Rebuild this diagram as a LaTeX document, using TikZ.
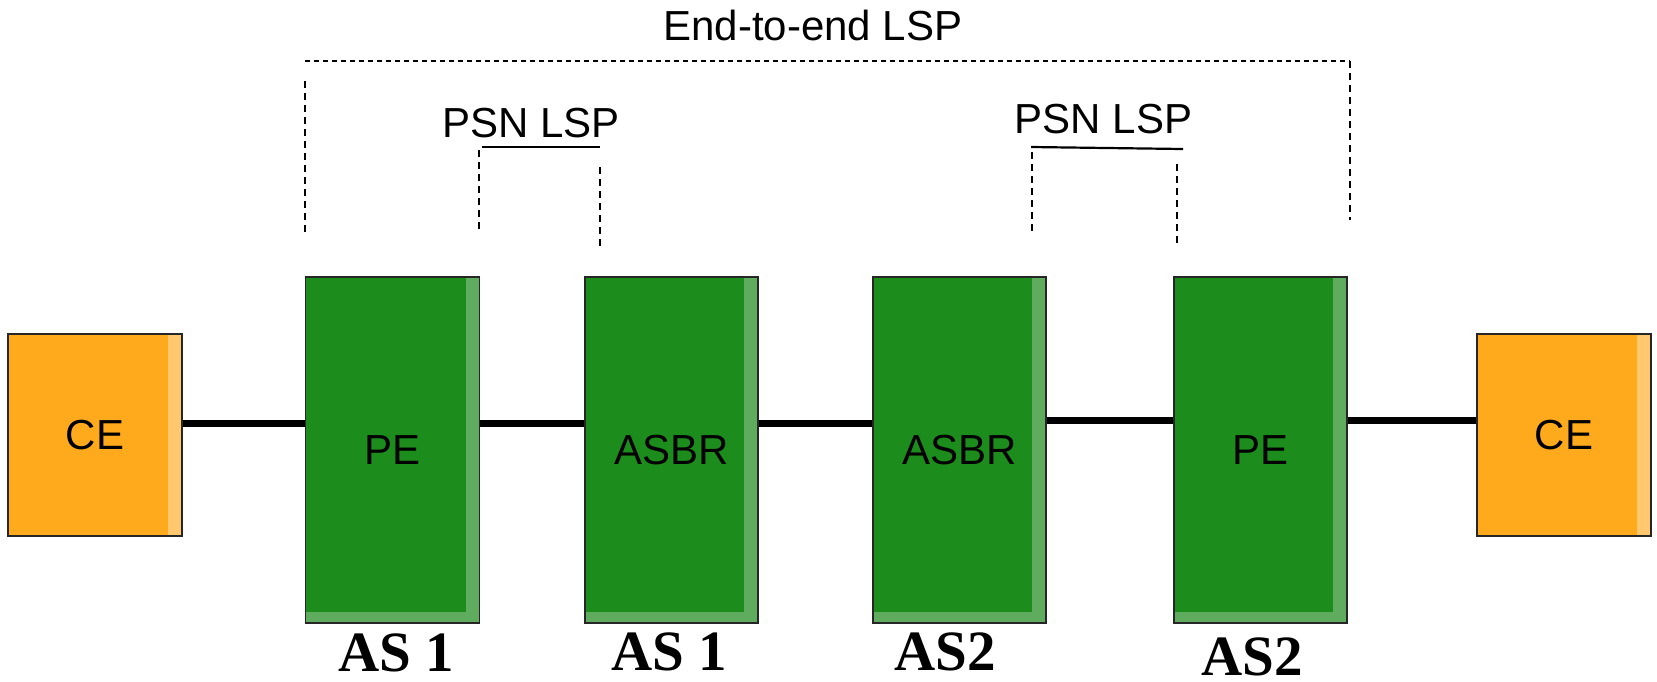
\documentclass[tikz,border=0pt]{standalone}
\usepackage{fontspec}
\setmainfont{Liberation Sans}
\newfontfamily\asfont{Liberation Serif}
\begin{document}
\begin{tikzpicture}[x=1pt,y=-1pt,
  boxlabel/.style={font=\fontsize{42}{48}\selectfont},
  devbox/.style={boxlabel, draw=black!85, line width=1.3pt, inner sep=0pt, anchor=center},
  edgebox/.style={devbox, fill=ceorange, minimum width=174pt, minimum height=202pt,
    path picture={\fill[celight] ([xshift=-14pt]path picture bounding box.north east) rectangle (path picture bounding box.south east);}},
  corebox/.style={devbox, fill=pegreen, minimum height=346pt,
    path picture={
      \fill[pelight] ([xshift=-14pt]path picture bounding box.north east) rectangle (path picture bounding box.south east);
      \fill[pelight] (path picture bounding box.south west) rectangle ([xshift=-14pt,yshift=11pt]path picture bounding box.south east);}},
  aslabel/.style={font=\asfont\bfseries\fontsize{57}{60}\selectfont, inner sep=0pt, anchor=base},
  lsplabel/.style={font=\fontsize{42}{48}\selectfont, inner sep=0pt, anchor=base},
  link/.style={line width=6.5pt, black},
  lspdash/.style={line width=1.7pt, dash pattern=on 7pt off 5pt},
  lspline/.style={line width=2.2pt}]
\definecolor{ceorange}{RGB}{255,170,28}
\definecolor{celight}{RGB}{255,200,110}
\definecolor{pegreen}{RGB}{28,140,28}
\definecolor{pelight}{RGB}{95,172,95}
\useasboundingbox (0,0) rectangle (1657,681);

% customer edge and provider boxes
\node[edgebox] (ce1) at (95,435) {CE};
\node[corebox, minimum width=174pt] (pe1) at (392.5,450) {PE};
\node[corebox, minimum width=173pt] (asbr1) at (671.5,450) {ASBR};
\node[corebox, minimum width=173pt] (asbr2) at (959.5,450) {ASBR};
\node[corebox, minimum width=173pt] (pe2) at (1260.5,450) {PE};
\node[edgebox] (ce2) at (1564,435) {CE};

% autonomous system labels
\node[aslabel] (as1a) at (396,671) {AS 1};
\node[aslabel] (as1b) at (669.5,670) {AS 1};
\node[aslabel] (as2a) at (945,670) {AS2};
\node[aslabel] (as2b) at (1252,675) {AS2};

% physical links
\coordinate (ylo) at (0,423.5);
\coordinate (yhi) at (0,420.5);
\draw[link] (ce1.east |- ylo) -- (pe1.west |- ylo);
\draw[link] (pe1.east |- ylo) -- (asbr1.west |- ylo);
\draw[link] (asbr1.east |- ylo) -- (asbr2.west |- ylo);
\draw[link] (asbr2.east |- yhi) -- (pe2.west |- yhi);
\draw[link] (pe2.east |- yhi) -- (ce2.west |- yhi);

% end-to-end LSP bracket
\node[lsplabel] (e2e) at (813,40) {End-to-end LSP};
\coordinate (e2eLb) at (305,232);
\coordinate (e2eLt) at (305,77);
\coordinate (e2eTL) at (305,61);
\coordinate (e2eTR) at (1350,61);
\coordinate (e2eRb) at (1350,220);
\draw[lspdash] (e2eLb) -- (e2eLt);
\draw[lspdash, dash pattern=on 5pt off 4pt] (e2eTL) -- (e2eTR);
\draw[lspdash] (e2eTR) -- (e2eRb);

% PSN LSP in AS 1
\node[lsplabel] (psn1) at (531,137) {PSN LSP};
\coordinate (p1L) at (482,147);
\coordinate (p1R) at (600,147);
\coordinate (p1Lt) at (479,150);
\coordinate (p1Lb) at (479,232);
\coordinate (p1Rt) at (600,167);
\coordinate (p1Rb) at (600,248);
\draw[lspline] (p1L) -- (p1R);
\draw[lspdash] (p1Lt) -- (p1Lb);
\draw[lspdash] (p1Rt) -- (p1Rb);

% PSN LSP in AS2
\node[lsplabel] (psn2) at (1103.5,133) {PSN LSP};
\coordinate (p2L) at (1031,147);
\coordinate (p2R) at (1183,149);
\coordinate (p2Lt) at (1032,152);
\coordinate (p2Lb) at (1032,235);
\coordinate (p2Rt) at (1177,164);
\coordinate (p2Rb) at (1177,247);
\draw[lspline] (p2L) -- (p2R);
\draw[lspdash] (p2Lt) -- (p2Lb);
\draw[lspdash] (p2Rt) -- (p2Rb);
\end{tikzpicture}
\end{document}
